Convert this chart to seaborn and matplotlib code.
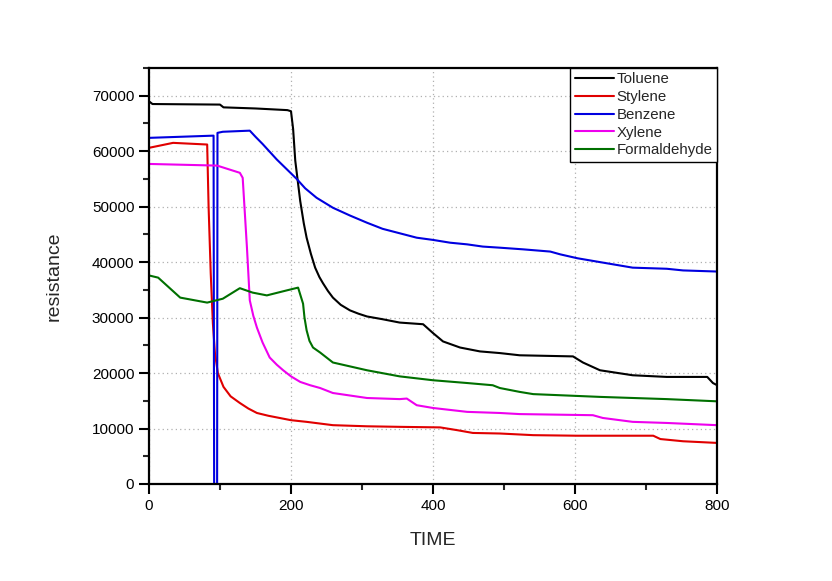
import pandas as pd
import numpy as np
import seaborn as sns
import matplotlib.pyplot as plt
from matplotlib.ticker import MultipleLocator

# values
toluene_x = [0, 5, 100, 105, 150, 195, 200, 203, 206, 213, 218, 222, 228, 234, 240, 245, 252, 259,
             270, 283, 295, 307, 329, 353, 386, 400, 414, 438, 466, 494, 522, 597, 611, 635, 681,
             729, 786, 794, 800]
toluene_y = [69000, 68500, 68400, 67900, 67700, 67400, 67200, 64000, 58300, 51000, 47000, 44400,
             41500, 39000, 37300, 36200, 34800, 33600, 32300, 31300, 30700, 30200, 29700, 29100,
             28800, 27200, 25700, 24600, 23900, 23600, 23200, 23000, 21900, 20500, 19600, 19300,
             19300, 18200, 17800]

stylene_x = [0, 34, 82, 84, 87, 90, 93, 97, 105, 115, 128, 140, 152, 168, 184, 200, 222, 259, 307,
             353, 410, 434, 456, 494, 541, 603, 710, 720, 752, 800]
stylene_y = [60600, 61500, 61200, 50000, 38000, 29000, 23500, 20000, 17500, 15800, 14600, 13600,
             12800, 12300, 11900, 11500, 11200, 10600, 10400, 10300, 10200, 9700, 9200, 9100, 8800,
             8700, 8700, 8100, 7700, 7400]

benzene_x = [0, 91, 91.8, 96, 96.5, 104, 142, 150, 160, 180, 208, 220, 236, 259, 283, 307, 329,
             353, 377, 400, 424, 448, 470, 494, 527, 565, 579, 603, 635, 681, 729, 752, 800]
benzene_y = [62400, 62800, 0, 0, 63300, 63500, 63700, 62600, 61300, 58500, 55000, 53300, 51600,
             49800, 48400, 47100, 46000, 45200, 44400, 44000, 43500, 43200, 42800, 42600, 42300,
             41900, 41400, 40700, 40000, 39000, 38800, 38500, 38300]

xylene_x = [0, 96, 128, 132, 138, 142, 147, 152, 160, 170, 180, 189, 200, 213, 227, 241, 259, 307,
            353, 363, 377, 400, 448, 494, 522, 625, 639, 681, 729, 800]
xylene_y = [57700, 57400, 56100, 55200, 42600, 33100, 30300, 28200, 25500, 22800, 21500, 20500,
            19400, 18400, 17800, 17300, 16400, 15500, 15300, 15400, 14200, 13700, 13000, 12800,
            12600, 12400, 11900, 11200, 11000, 10600]

formal_x = [0, 13, 44, 82, 104, 128, 146, 166, 194, 210, 217, 219, 222, 226, 231, 241, 259, 307,
            353, 400, 448, 484, 494, 522, 541, 635, 729, 800]
formal_y = [37600, 37200, 33600, 32700, 33400, 35300, 34500, 34000, 34900, 35400, 32500, 30000,
            27700, 25800, 24600, 23700, 21900, 20500, 19400, 18700, 18200, 17800, 17300, 16600,
            16200, 15700, 15300, 14900]

names = ['Toluene', 'Stylene', 'Benzene', 'Xylene', 'Formaldehyde']
colors = ['black', '#e00000', '#0000e0', '#ee00ee', '#007000']

series = [(toluene_x, toluene_y), (stylene_x, stylene_y), (benzene_x, benzene_y),
          (xylene_x, xylene_y), (formal_x, formal_y)]

frames = []
for name, (xs, ys) in zip(names, series):
    frames.append(pd.DataFrame({'TIME': xs, 'resistance': ys, 'gas': name,
                                'order': np.arange(len(xs))}))
df = pd.concat(frames, ignore_index=True)

sns.set_style('white')
plt.rcParams['font.family'] = ['Liberation Sans', 'DejaVu Sans']

fig = plt.figure(figsize=(8.32, 5.81), dpi=100)
ax = fig.add_axes([0.179, 0.167, 0.683, 0.716])

sns.lineplot(data=df, x='TIME', y='resistance', hue='gas', hue_order=names,
             palette=dict(zip(names, colors)), estimator=None, sort=False,
             linewidth=1.5, ax=ax)

ax.set_xlim(0, 800)
ax.set_ylim(0, 75000)
ax.xaxis.set_major_locator(MultipleLocator(200))
ax.xaxis.set_minor_locator(MultipleLocator(100))
ax.yaxis.set_major_locator(MultipleLocator(10000))
ax.yaxis.set_minor_locator(MultipleLocator(5000))

ax.grid(True, which='major', linestyle=(0, (1, 2.5)), color='#b0b0b0', linewidth=0.9)
for s in ax.spines.values():
    s.set_color('black')
    s.set_linewidth(1.6)

ax.tick_params(which='major', direction='out', length=7, width=1.5, labelsize=11,
               bottom=True, left=True, top=False, right=False, colors='black')
ax.tick_params(which='minor', direction='out', length=4, width=1.5,
               bottom=True, left=True, top=False, right=False)

ax.set_xlabel('TIME', fontsize=14, labelpad=14)
ax.set_ylabel('resistance', fontsize=14, labelpad=21)

leg = ax.legend(loc='upper right', borderaxespad=0, fontsize=10.8, handlelength=2.6,
                labelspacing=0.25, handletextpad=0.2, borderpad=0.3, fancybox=False,
                framealpha=1, edgecolor='black')
leg.get_frame().set_linewidth(1.0)
for line in leg.get_lines():
    line.set_linewidth(1.5)

plt.savefig('out.png', dpi=100)
